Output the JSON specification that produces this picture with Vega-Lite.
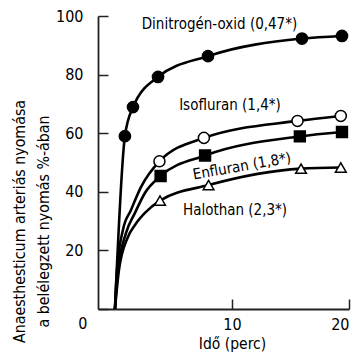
{
  "$schema": "https://vega.github.io/schema/vega-lite/v6.json",
  "width": 251,
  "height": 293,
  "autosize": "none",
  "padding": {"left": 98, "top": 16, "right": 6, "bottom": 47},
  "background": "white",
  "config": {
    "view": {"stroke": null},
    "font": "DejaVu Sans Condensed, Roboto",
    "axis": {
      "grid": false,
      "domainColor": "#222",
      "domainWidth": 1.8,
      "tickColor": "#222",
      "tickWidth": 1.5,
      "tickSize": -10,
      "labelFont": "DejaVu Sans Condensed, Roboto",
      "labelFontWeight": "normal",
      "labelFontSize": 16,
      "labelColor": "black",
      "titleFont": "DejaVu Sans Condensed, Roboto",
      "titleFontWeight": "normal",
      "titleColor": "black"
    }
  },
  "datasets": {
    "curves": [
      {"series": "Dinitrogén-oxid", "t": 0, "p": 0, "measured": false},
      {"series": "Dinitrogén-oxid", "t": 0.85, "p": 59.0, "measured": true},
      {"series": "Dinitrogén-oxid", "t": 1.54, "p": 68.9, "measured": true},
      {"series": "Dinitrogén-oxid", "t": 3.68, "p": 79.2, "measured": true},
      {"series": "Dinitrogén-oxid", "t": 7.95, "p": 86.3, "measured": true},
      {"series": "Dinitrogén-oxid", "t": 15.98, "p": 92.3, "measured": true},
      {"series": "Dinitrogén-oxid", "t": 19.4, "p": 93.2, "measured": true},
      {"series": "Isofluran", "t": 0, "p": 0, "measured": false},
      {"series": "Isofluran", "t": 0.17, "p": 13.3, "measured": false},
      {"series": "Isofluran", "t": 0.68, "p": 27.0, "measured": false},
      {"series": "Isofluran", "t": 1.37, "p": 33.8, "measured": false},
      {"series": "Isofluran", "t": 2.22, "p": 41.6, "measured": false},
      {"series": "Isofluran", "t": 3.8, "p": 50.4, "measured": true},
      {"series": "Isofluran", "t": 7.6, "p": 58.4, "measured": true},
      {"series": "Isofluran", "t": 15.6, "p": 64.2, "measured": true},
      {"series": "Isofluran", "t": 19.3, "p": 65.9, "measured": true},
      {"series": "Enfluran", "t": 0, "p": 0, "measured": false},
      {"series": "Enfluran", "t": 0.26, "p": 13.3, "measured": false},
      {"series": "Enfluran", "t": 0.94, "p": 25.9, "measured": false},
      {"series": "Enfluran", "t": 1.71, "p": 32.8, "measured": false},
      {"series": "Enfluran", "t": 2.56, "p": 39.6, "measured": false},
      {"series": "Enfluran", "t": 3.9, "p": 45.4, "measured": true},
      {"series": "Enfluran", "t": 7.7, "p": 52.4, "measured": true},
      {"series": "Enfluran", "t": 15.8, "p": 58.9, "measured": true},
      {"series": "Enfluran", "t": 19.4, "p": 60.4, "measured": true},
      {"series": "Halothan", "t": 0, "p": 0, "measured": false},
      {"series": "Halothan", "t": 0.34, "p": 13.3, "measured": false},
      {"series": "Halothan", "t": 1.11, "p": 24.6, "measured": false},
      {"series": "Halothan", "t": 1.71, "p": 28.7, "measured": false},
      {"series": "Halothan", "t": 2.56, "p": 32.8, "measured": false},
      {"series": "Halothan", "t": 3.85, "p": 37.0, "measured": true},
      {"series": "Halothan", "t": 8.0, "p": 42.3, "measured": true},
      {"series": "Halothan", "t": 15.9, "p": 47.9, "measured": true},
      {"series": "Halothan", "t": 19.3, "p": 48.3, "measured": true}
    ],
    "labels": [
      {"label": "Dinitrogén-oxid (0,47*)", "t": 8.93, "p": 97.3},
      {"label": "Isofluran (1,4*)", "t": 9.83, "p": 69.6},
      {"label": "Enfluran (1,8*)", "t": 10.85, "p": 48.8},
      {"label": "Halothan (2,3*)", "t": 10.26, "p": 33.8}
    ]
  },
  "encoding": {
    "x": {
      "field": "t",
      "type": "quantitative",
      "scale": {"domain": [-1.45, 20], "nice": false, "zero": false},
      "axis": {
        "values": [10, 20],
        "labelPadding": 17,
        "title": "Idő (perc)",
        "titleFontSize": 15.5,
        "titleX": 134,
        "titleY": 34,
        "titleBaseline": "middle",
        "titleAlign": "center"
      }
    },
    "y": {
      "field": "p",
      "type": "quantitative",
      "scale": {"domain": [0, 100], "nice": false},
      "axis": {
        "values": [0, 20, 40, 60, 80, 100],
        "labelBaseline": "middle",
        "labelPadding": {"condition": {"test": "datum.value === 0", "value": 21}, "value": 25},
        "labelOffset": {"condition": {"test": "datum.value === 0", "value": 14}, "value": 0},
        "title": ["Anaesthesticum arteriás nyomása", "a belélegzett nyomás %-ában"],
        "titleFontSize": 15.8,
        "titleLineHeight": 24,
        "titleAngle": -90,
        "titleAlign": "center",
        "titleBaseline": "top",
        "titleX": -86,
        "titleY": 205
      }
    }
  },
  "layer": [
    {
      "data": {"name": "curves"},
      "mark": {"type": "line", "interpolate": "monotone", "color": "black", "strokeWidth": 2.6},
      "encoding": {"detail": {"field": "series"}}
    },
    {
      "data": {"name": "curves"},
      "transform": [{"filter": "datum.measured"}],
      "mark": {"type": "point", "filled": true, "stroke": "black", "strokeWidth": 1.5, "opacity": 1},
      "encoding": {
        "shape": {"field": "series", "type": "nominal", "scale": {"domain": ["Dinitrogén-oxid", "Isofluran", "Enfluran", "Halothan"], "range": ["circle", "circle", "square", "triangle-up"]}, "legend": null},
        "fill": {"field": "series", "type": "nominal", "scale": {"domain": ["Dinitrogén-oxid", "Isofluran", "Enfluran", "Halothan"], "range": ["black", "white", "black", "white"]}, "legend": null},
        "size": {"field": "series", "type": "nominal", "scale": {"domain": ["Dinitrogén-oxid", "Isofluran", "Enfluran", "Halothan"], "range": [125, 115, 90, 125]}, "legend": null}
      }
    },
    {
      "data": {"name": "labels"},
      "mark": {"type": "text", "font": "DejaVu Sans Condensed, Roboto", "fontWeight": "normal", "fontSize": 15, "align": "center", "baseline": "middle", "color": "black"},
      "encoding": {
        "text": {"field": "label"},
        "angle": {"condition": {"test": "datum.label === 'Enfluran (1,8*)'", "value": 350}, "value": 0}
      }
    }
  ]
}
